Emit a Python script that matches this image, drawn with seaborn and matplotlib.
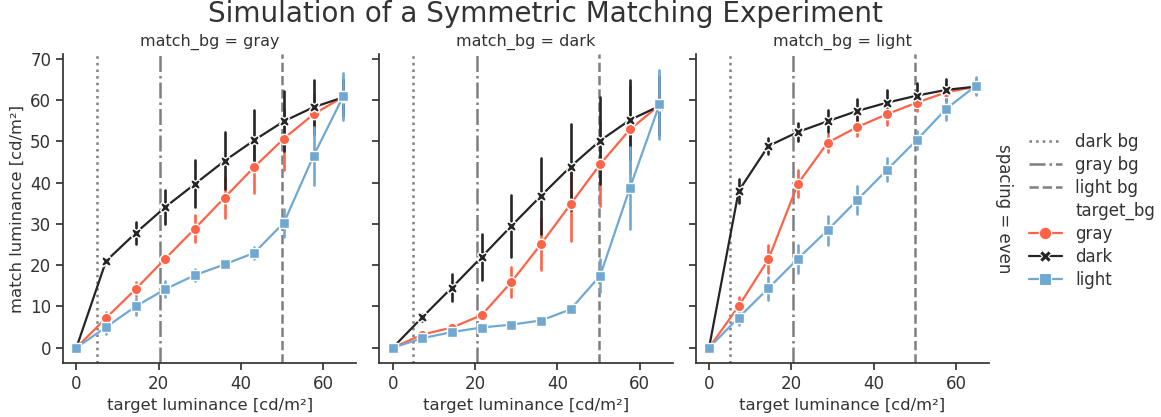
import numpy as np
import pandas as pd
import matplotlib
matplotlib.use("Agg")
import matplotlib.pyplot as plt
from matplotlib.lines import Line2D
import seaborn as sns

# Target luminance levels (cd/m²)
target_lum = [0.0, 7.2, 14.4, 21.6, 28.8, 36.0, 43.2, 50.4, 57.6, 64.8]

# Background luminances marked by the reference lines
bg_dark, bg_gray, bg_light = 5.0, 20.4, 50.0

# Mean matches and half-widths of the error bars, per match background
# match_bg = gray
gray_on_gray = [0.0, 7.2, 14.2, 21.6, 28.9, 36.4, 43.8, 50.7, 56.6, 60.8]
gray_on_gray_err = [0.0, 1.4, 1.7, 0.9, 3.2, 5.0, 6.4, 7.5, 5.0, 4.0]
dark_on_gray = [0.0, 21.0, 27.8, 34.1, 39.7, 45.3, 50.3, 54.9, 58.3, 60.7]
dark_on_gray_err = [0.0, 0.5, 2.7, 4.2, 5.7, 6.9, 7.3, 7.3, 6.6, 4.5]
light_on_gray = [0.0, 5.0, 10.0, 14.2, 17.6, 20.2, 23.0, 30.3, 46.5, 60.9]
light_on_gray_err = [0.0, 1.7, 2.0, 2.0, 1.4, 0.8, 1.5, 3.4, 7.0, 5.7]

# match_bg = dark
gray_on_dark = [0.0, 3.2, 4.9, 7.9, 15.9, 25.1, 34.8, 44.5, 52.9, 58.8]
gray_on_dark_err = [0.0, 0.6, 0.6, 1.0, 3.6, 6.3, 9.0, 10.2, 10.5, 7.0]
dark_on_dark = [0.0, 7.4, 14.6, 22.0, 29.5, 36.8, 43.9, 50.2, 55.2, 58.6]
dark_on_dark_err = [0.0, 0.8, 3.3, 5.5, 7.6, 9.3, 10.4, 10.5, 9.7, 7.0]
light_on_dark = [0.0, 2.3, 3.8, 4.9, 5.6, 6.6, 9.3, 17.5, 38.7, 59.0]
light_on_dark_err = [0.0, 0.4, 0.4, 0.5, 0.5, 0.5, 1.0, 4.0, 9.9, 8.3]

# match_bg = light
gray_on_light = [0.0, 10.1, 21.4, 39.8, 49.7, 53.5, 56.6, 59.4, 61.9, 63.3]
gray_on_light_err = [0.0, 2.3, 3.4, 3.2, 2.2, 2.2, 2.6, 2.0, 2.0, 1.5]
dark_on_light = [0.0, 38.0, 48.9, 52.3, 54.9, 57.4, 59.4, 61.1, 62.5, 63.3]
dark_on_light_err = [0.0, 3.0, 2.0, 2.2, 2.7, 3.0, 3.0, 3.0, 2.6, 1.5]
light_on_light = [0.0, 7.3, 14.4, 21.6, 28.5, 35.8, 43.1, 50.3, 57.9, 63.5]
light_on_light_err = [0.0, 1.9, 2.8, 3.4, 3.5, 3.3, 2.8, 2.2, 2.6, 2.2]

match_bgs = ["gray", "dark", "light"]
target_bgs = ["gray", "dark", "light"]
series = {
    ("gray", "gray"): (gray_on_gray, gray_on_gray_err),
    ("gray", "dark"): (dark_on_gray, dark_on_gray_err),
    ("gray", "light"): (light_on_gray, light_on_gray_err),
    ("dark", "gray"): (gray_on_dark, gray_on_dark_err),
    ("dark", "dark"): (dark_on_dark, dark_on_dark_err),
    ("dark", "light"): (light_on_dark, light_on_dark_err),
    ("light", "gray"): (gray_on_light, gray_on_light_err),
    ("light", "dark"): (dark_on_light, dark_on_light_err),
    ("light", "light"): (light_on_light, light_on_light_err),
}

# Long-form table: each mean is stored as a low/high pair so that the
# min-max interval reproduces the error bar and the mean stays exact.
rows = []
for (mbg, tbg), (means, errs) in series.items():
    for x, m, e in zip(target_lum, means, errs):
        for v in (m - e, m + e):
            rows.append({"spacing": "even", "match_bg": mbg, "target_bg": tbg,
                         "target": x, "match": v})
df = pd.DataFrame(rows)

palette = {"gray": "#ff6347", "dark": "#252525", "light": "#70a8d2"}
markers = {"gray": "o", "dark": "X", "light": "s"}

sns.set_theme(style="ticks", context="notebook")
plt.rcParams.update({
    "font.family": ["DejaVu Sans"],
    "axes.labelsize": 11.8,
    "xtick.labelsize": 12,
    "ytick.labelsize": 12,
    "axes.titlesize": 11.5,
    "legend.fontsize": 12,
    "axes.edgecolor": "#333333",
    "axes.linewidth": 1.25,
    "xtick.color": "#333333",
    "ytick.color": "#333333",
    "text.color": "#333333",
    "axes.labelcolor": "#333333",
})

g = sns.relplot(
    data=df, x="target", y="match",
    hue="target_bg", style="target_bg",
    hue_order=target_bgs, style_order=target_bgs,
    col="match_bg", row="spacing", col_order=match_bgs,
    kind="line", palette=palette, markers=markers, dashes=False,
    err_style="bars", errorbar=lambda v: (v.min(), v.max()),
    err_kws={"linewidth": 1.9, "zorder": 1.8},
    linewidth=1.6, markersize=7.5, markeredgecolor="white", markeredgewidth=1.0,
    facet_kws={"margin_titles": True}, legend=False,
    height=4, aspect=1,
)

fig = g.figure
fig.set_size_inches(11.61, 4.17)
fig.subplots_adjust(left=0.0543, right=0.852, top=0.8705, bottom=0.1295,
                    wspace=0.078)

vline_kw = dict(color="#7f7f7f", linewidth=1.8, zorder=0)
for ax in g.axes.flat:
    ax.axvline(bg_dark, linestyle=":", **vline_kw)
    ax.axvline(bg_gray, linestyle="-.", **vline_kw)
    ax.axvline(bg_light, linestyle="--", **vline_kw)
    ax.set_ylim(-3.7, 71.2)
    ax.set_yticks(np.arange(0, 71, 10))
    ax.set_xticks([0, 20, 40, 60])
    ax.tick_params(length=5, width=1.25)

g.set_axis_labels("target luminance [cd/m²]", "match luminance [cd/m²]")
g.set_titles(col_template="match_bg = {col_name}",
             row_template="spacing = {row_name}")
for ax in g.axes.flat:
    ax.title.set_fontsize(11.5)
for t in g._margin_titles_texts:
    t.set_fontsize(12)

fig.suptitle("Simulation of a Symmetric Matching Experiment",
             fontsize=20, x=0.47, y=1.0)

# Legend: reference lines first, then the target background series
handles = [
    Line2D([], [], color="#7f7f7f", linestyle=":", linewidth=1.8),
    Line2D([], [], color="#7f7f7f", linestyle="-.", linewidth=1.8),
    Line2D([], [], color="#7f7f7f", linestyle="--", linewidth=1.8),
    Line2D([], [], linestyle="", marker=""),
]
labels = ["dark bg", "gray bg", "light bg", "target_bg"]
for tbg in target_bgs:
    handles.append(Line2D([], [], color=palette[tbg], marker=markers[tbg],
                          linewidth=1.6, markersize=9,
                          markeredgecolor="white", markeredgewidth=0.8))
    labels.append(tbg)
fig.legend(handles, labels, loc="center left", bbox_to_anchor=(0.873, 0.494),
           frameon=False, handlelength=2.0, labelspacing=0.3,
           handletextpad=0.8)

fig.savefig("out.png", dpi=100)
